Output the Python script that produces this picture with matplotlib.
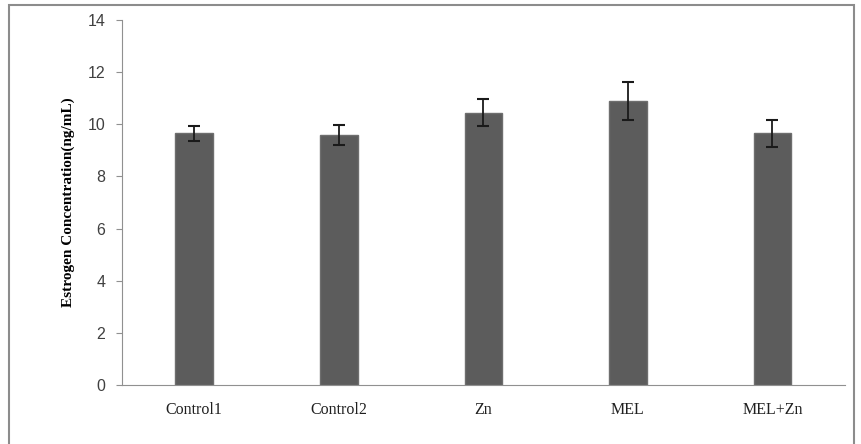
import matplotlib.pyplot as plt
from matplotlib.patches import Rectangle

# Group names and estrogen values
groups = ['Control1', 'Control2', 'Zn', 'MEL', 'MEL+Zn']
means = [9.65, 9.6, 10.45, 10.9, 9.65]
errors = [0.3, 0.38, 0.52, 0.73, 0.52]
yticks = [0, 2, 4, 6, 8, 10, 12, 14]

fig = plt.figure(figsize=(8.62, 4.44), dpi=100)
ax = fig.add_axes([0.1415, 0.133, 0.8385, 0.822])

# outer frame of the figure (left, top and right edges visible)
fig.patches.append(Rectangle((0.011, -0.05), 0.98, 1.039, transform=fig.transFigure,
                             fill=False, edgecolor='#8c8c8c', linewidth=1.5))

x = range(len(groups))
ax.bar(x, means, width=0.26, color='#5c5c5c', edgecolor='#6e6e6e', linewidth=1)
ax.errorbar(x, means, yerr=errors, fmt='none', ecolor='#1a1a1a',
            elinewidth=1.3, capsize=4, capthick=1.5)

ax.set_xlim(-0.5, len(groups) - 0.5)
ax.set_ylim(0, 14)
ax.set_yticks(yticks)
ax.set_yticklabels([str(t) for t in yticks], fontsize=11.5, color='#404040',
                   family='Liberation Sans')
ax.set_xticks(list(x))
ax.set_xticklabels(groups, fontsize=11.5, family='Liberation Serif', color='#202020')
ax.tick_params(axis='x', length=0, pad=12)
ax.tick_params(axis='y', length=4, color='#909090', pad=8)

ax.spines['top'].set_visible(False)
ax.spines['right'].set_visible(False)
ax.spines['left'].set_color('#909090')
ax.spines['bottom'].set_color('#909090')

ax.set_ylabel('Estrogen Concentration(ng/mL)', fontsize=11, fontweight='bold',
              family='Liberation Serif', labelpad=9)

fig.savefig('out.png', dpi=100)
